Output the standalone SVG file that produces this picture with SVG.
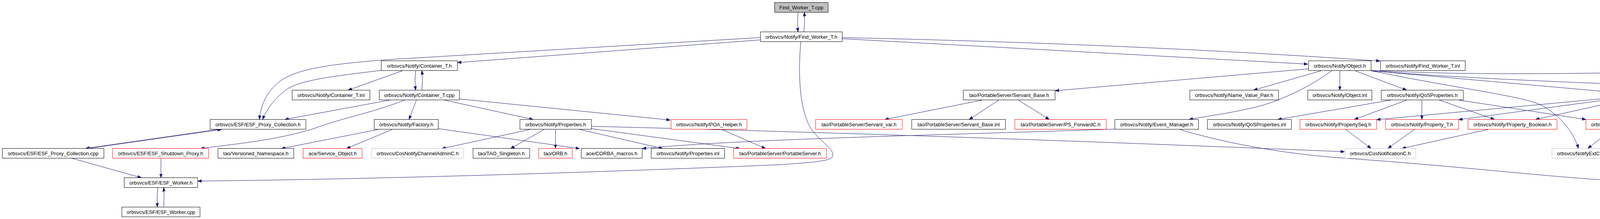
<svg xmlns="http://www.w3.org/2000/svg" width="5547" height="560" viewBox="0 0 5547 560">
<defs>
<style>
rect{fill:#fff;stroke:#000;stroke-width:1}
.r rect{stroke:#f00}
.g rect{stroke:#bfbfbf}
.root rect{fill:#bfbfbf}
text{font-family:"Liberation Sans",Arial,sans-serif;font-size:13px;text-anchor:middle;fill:#000}
#edges path{fill:none;stroke:#191970;stroke-width:1;marker-end:url(#a)}
</style>
<marker id="a" markerWidth="10" markerHeight="8" refX="10" refY="4" orient="auto" markerUnits="userSpaceOnUse"><path d="M0,0.5 L10,4 L0,7.5 z" fill="#191970" stroke="#191970" stroke-width="1"/></marker>
</defs>
<rect x="0" y="0" width="5547" height="560" style="stroke:none;fill:#fff"/>
<g id="edges">
<path d="M2043,31.5 Q2040,56 2043,81.5"/>
<path d="M2058,81.5 Q2061,56 2059,31.5"/>
<path d="M1947,102 L1171,160"/>
<path d="M1947,96 L1000,152 C820,165 760,180 720,205 C680,235 668,270 664,305.5"/>
<path d="M1064,180.5 Q1061,205 1064,230.5"/>
<path d="M1080,230.5 Q1083,205 1080,180.5"/>
<path d="M1030,181 L891,230.5"/>
<path d="M976,180 C850,195 770,205 735,228 C705,250 685,275 672,305.5"/>
<path d="M997,256 L729,305.5"/>
<path d="M1035,256 C950,290 880,300 800,330 C700,360 600,368 513,380"/>
<path d="M1066,256 L1047,305.5"/>
<path d="M1138,256 L1365,305.5"/>
<path d="M1176,253 L1716,307"/>
<path d="M2156,99 L3348,164"/>
<path d="M2156,96 Q2900,112 3533,156"/>
<path d="M2050,106.5 C2042,200 2048,290 2080,335 C2110,370 2140,385 2130,402 C2120,414 2060,416 2000,421 C1600,438 1000,458 506,463"/>
<path d="M968,331 L720,380"/>
<path d="M1004,331 L887,380"/>
<path d="M1122,329 L1484,380"/>
<path d="M1357,331 L1131,380"/>
<path d="M1393,331 L1307,380"/>
<path d="M1422,331 L1422,379.5"/>
<path d="M1484,331 L1697,380"/>
<path d="M1514,329 L1895,380"/>
<path d="M1514,323 Q2400,345 3442,388"/>
<path d="M1848,331 L1960,380"/>
<path d="M2854,330 C2400,346 1900,355 1644,380"/>
<path d="M2514,256 L2265,305.5"/>
<path d="M2557,256 L2481,305.5"/>
<path d="M2607,256 L2686,305.5"/>
<path d="M3350,176 L2701,232"/>
<path d="M3382,181 L3209,230.5"/>
<path d="M3409,181 C3370,210 3300,250 3226,271 C3150,290 3100,295 3044,305.5"/>
<path d="M3430,181 L3430,230.5"/>
<path d="M3469,181 L3601,230.5"/>
<path d="M3510,180 C3700,190 3900,190 4150,186 L4497,185 C4700,190 4900,200 4960,212 C5060,232 5130,260 5204,305.5"/>
<path d="M3510,181 C3800,205 4200,218 4848,240"/>
<path d="M3510,181 L4108,234"/>
<path d="M3510,181 C3750,230 3900,245 3950,271 C3990,295 4025,330 4041,379.5"/>
<path d="M3560,256 L3271,305.5"/>
<path d="M3601,256 L3467,305.5"/>
<path d="M3640,256 L3640,305.5"/>
<path d="M3685,256 L3826,305.5"/>
<path d="M3735,256 L4060,305.5"/>
<path d="M4108,252 L3524,306"/>
<path d="M4108,256 L3734,306"/>
<path d="M4155,256 L3931,305.5"/>
<path d="M4203,256 L4161,305.5"/>
<path d="M4225,256 C4240,300 4255,380 4265,454.5"/>
<path d="M4234,256 C4290,310 4350,345 4440,365 C4500,378 4530,382 4563,386"/>
<path d="M4263,256 L4416,305.5"/>
<path d="M4306,256 L4619,305.5"/>
<path d="M4329,247 C4800,270 5030,285 5060,300 C5085,320 5075,350 4998,379.5"/>
<path d="M4126,331 L4065,379.5"/>
<path d="M4156,331 L4254,454.5"/>
<path d="M3445,331 L3510,379.5"/>
<path d="M3621,331 L3553,379.5"/>
<path d="M3809,331 L3589,379.5"/>
<path d="M3020,331 C3150,370 3300,395 3450,405 C3800,430 4000,458 4217,466"/>
<path d="M4947,256 L4947,305.5"/>
<path d="M4998,256 L5180,305.5"/>
<path d="M4885,331 L4679,379.5"/>
<path d="M5175,331 L5003,379.5"/>
<path d="M5192,331 C5110,360 5050,395 5030,400 C4950,420 4700,440 4319,464"/>
<path d="M5213,331 L5170,379.5"/>
<path d="M5244,331 L5287,379.5"/>
<path d="M5275,331 L5424,379.5"/>
<path d="M5086,404 L4988,414 C4800,432 4500,455 4319,466"/>
<path d="M558,331 L219,379.5"/>
<path d="M223,380 L567,331"/>
<path d="M185,405 L362,454.5"/>
<path d="M412,405 L412,454.5"/>
<path d="M404,479.5 Q401,505 403,529.5"/>
<path d="M419,529.5 Q421,505 419,479.5"/>
</g>
<g id="n_root" class="root"><rect x="1983" y="6.5" width="137" height="25"/><text x="2051.5" y="23.5">Find_Worker_T.cpp</text></g>
<g id="n_fwh"><rect x="1947" y="81.5" width="209" height="25"/><text x="2051.5" y="98.5">orbsvcs/Notify/Find_Worker_T.h</text></g>
<g id="n_cth"><rect x="976" y="155.5" width="195" height="25"/><text x="1073.5" y="172.5">orbsvcs/Notify/Container_T.h</text></g>
<g id="n_objh"><rect x="3350" y="155.5" width="160" height="25"/><text x="3430" y="172.5">orbsvcs/Notify/Object.h</text></g>
<g id="n_fwinl"><rect x="3534" y="155.5" width="217" height="25"/><text x="3642.5" y="172.5">orbsvcs/Notify/Find_Worker_T.inl</text></g>
<g id="n_ctinl"><rect x="748" y="230.5" width="199" height="25"/><text x="847.5" y="247.5">orbsvcs/Notify/Container_T.inl</text></g>
<g id="n_ctcpp"><rect x="971" y="230.5" width="205" height="25"/><text x="1073.5" y="247.5">orbsvcs/Notify/Container_T.cpp</text></g>
<g id="n_sbh"><rect x="2466" y="230.5" width="235" height="25"/><text x="2583.5" y="247.5">tao/PortableServer/Servant_Base.h</text></g>
<g id="n_nvp"><rect x="3046" y="230.5" width="227" height="25"/><text x="3159.5" y="247.5">orbsvcs/Notify/Name_Value_Pair.h</text></g>
<g id="n_objinl"><rect x="3348" y="230.5" width="164" height="25"/><text x="3430" y="247.5">orbsvcs/Notify/Object.inl</text></g>
<g id="n_qosh"><rect x="3536" y="230.5" width="210" height="25"/><text x="3641" y="247.5">orbsvcs/Notify/QoSProperties.h</text></g>
<g id="n_admh"><rect x="4108" y="230.5" width="221" height="25"/><text x="4218.5" y="247.5">orbsvcs/Notify/AdminProperties.h</text></g>
<g id="n_wth"><rect x="4848" y="230.5" width="199" height="25"/><text x="4947.5" y="247.5">orbsvcs/Notify/Worker_Task.h</text></g>
<g id="n_esfpch"><rect x="538" y="305.5" width="245" height="25"/><text x="660.5" y="322.5">orbsvcs/ESF/ESF_Proxy_Collection.h</text></g>
<g id="n_fact"><rect x="958" y="305.5" width="164" height="25"/><text x="1040" y="322.5">orbsvcs/Notify/Factory.h</text></g>
<g id="n_proph"><rect x="1331" y="305.5" width="183" height="25"/><text x="1422.5" y="322.5">orbsvcs/Notify/Properties.h</text></g>
<g id="n_poa" class="r"><rect x="1718" y="305.5" width="194" height="25"/><text x="1815" y="322.5">orbsvcs/Notify/POA_Helper.h</text></g>
<g id="n_svar" class="r"><rect x="2088" y="305.5" width="222" height="25"/><text x="2199" y="322.5">tao/PortableServer/Servant_var.h</text></g>
<g id="n_sbinl"><rect x="2334" y="305.5" width="240" height="25"/><text x="2454" y="322.5">tao/PortableServer/Servant_Base.inl</text></g>
<g id="n_psf" class="r"><rect x="2598" y="305.5" width="234" height="25"/><text x="2715" y="322.5">tao/PortableServer/PS_ForwardC.h</text></g>
<g id="n_evm"><rect x="2854" y="305.5" width="214" height="25"/><text x="2961" y="322.5">orbsvcs/Notify/Event_Manager.h</text></g>
<g id="n_qosinl"><rect x="3091" y="305.5" width="215" height="25"/><text x="3198.5" y="322.5">orbsvcs/Notify/QoSProperties.inl</text></g>
<g id="n_pseq" class="r"><rect x="3328" y="305.5" width="196" height="25"/><text x="3426" y="322.5">orbsvcs/Notify/PropertySeq.h</text></g>
<g id="n_propt" class="r"><rect x="3547" y="305.5" width="187" height="25"/><text x="3640.5" y="322.5">orbsvcs/Notify/Property_T.h</text></g>
<g id="n_propb" class="r"><rect x="3758" y="305.5" width="228" height="25"/><text x="3872" y="322.5">orbsvcs/Notify/Property_Boolean.h</text></g>
<g id="n_prop" class="r"><rect x="4060" y="305.5" width="171" height="25"/><text x="4145.5" y="322.5">orbsvcs/Notify/Property.h</text></g>
<g id="n_ctm"><rect x="4355" y="305.5" width="208" height="25"/><text x="4459" y="322.5">ace/Condition_Thread_Mutex.h</text></g>
<g id="n_adminl"><rect x="4587" y="305.5" width="226" height="25"/><text x="4700" y="322.5">orbsvcs/Notify/AdminProperties.inl</text></g>
<g id="n_mreq" class="r"><rect x="4835" y="305.5" width="222" height="25"/><text x="4946" y="322.5">orbsvcs/Notify/Method_Request.h</text></g>
<g id="n_refc"><rect x="5131" y="305.5" width="199" height="25"/><text x="5230.5" y="322.5">orbsvcs/Notify/Refcountable.h</text></g>
<g id="n_esfpccpp"><rect x="6" y="379.5" width="260" height="25"/><text x="136" y="396.5">orbsvcs/ESF/ESF_Proxy_Collection.cpp</text></g>
<g id="n_esfsd" class="r"><rect x="288" y="379.5" width="246" height="25"/><text x="411" y="396.5">orbsvcs/ESF/ESF_Shutdown_Proxy.h</text></g>
<g id="n_vns"><rect x="558" y="379.5" width="194" height="25"/><text x="655" y="396.5">tao/Versioned_Namespace.h</text></g>
<g id="n_svco" class="r"><rect x="776" y="379.5" width="151" height="25"/><text x="851.5" y="396.5">ace/Service_Object.h</text></g>
<g id="n_cnca" class="g"><rect x="951" y="379.5" width="236" height="25"/><text x="1069" y="396.5">orbsvcs/CosNotifyChannelAdminC.h</text></g>
<g id="n_tsing"><rect x="1211" y="379.5" width="145" height="25"/><text x="1283.5" y="396.5">tao/TAO_Singleton.h</text></g>
<g id="n_orb" class="r"><rect x="1379" y="379.5" width="86" height="25"/><text x="1422" y="396.5">tao/ORB.h</text></g>
<g id="n_corba"><rect x="1488" y="379.5" width="156" height="25"/><text x="1566" y="396.5">ace/CORBA_macros.h</text></g>
<g id="n_propinl"><rect x="1667" y="379.5" width="188" height="25"/><text x="1761" y="396.5">orbsvcs/Notify/Properties.inl</text></g>
<g id="n_pss" class="r"><rect x="1878" y="379.5" width="238" height="25"/><text x="1997" y="396.5">tao/PortableServer/PortableServer.h</text></g>
<g id="n_cnc" class="g"><rect x="3443" y="379.5" width="181" height="25"/><text x="3533.5" y="396.5">orbsvcs/CosNotificationC.h</text></g>
<g id="n_nec" class="g"><rect x="3973" y="379.5" width="146" height="25"/><text x="4046" y="396.5">orbsvcs/NotifyExtC.h</text></g>
<g id="n_bptr"><rect x="4563" y="379.5" width="121" height="25"/><text x="4623.5" y="396.5">ace/Bound_Ptr.h</text></g>
<g id="n_aop"><rect x="4888" y="379.5" width="124" height="25"/><text x="4950" y="396.5">ace/Atomic_Op.h</text></g>
<g id="n_btyp"><rect x="5086" y="379.5" width="132" height="25"/><text x="5152" y="396.5">tao/Basic_Types.h</text></g>
<g id="n_strt"><rect x="5240" y="379.5" width="135" height="25"/><text x="5307.5" y="396.5">ace/Synch_Traits.h</text></g>
<g id="n_tmtx"><rect x="5398" y="379.5" width="145" height="25"/><text x="5470.5" y="396.5">ace/Thread_Mutex.h</text></g>
<g id="n_esfwh"><rect x="318" y="454.5" width="188" height="25"/><text x="412" y="471.5">orbsvcs/ESF/ESF_Worker.h</text></g>
<g id="n_orbconf"><rect x="4217" y="454.5" width="102" height="25"/><text x="4268" y="471.5">tao/orbconf.h</text></g>
<g id="n_esfwcpp"><rect x="312" y="529.5" width="200" height="25"/><text x="412" y="546.5">orbsvcs/ESF/ESF_Worker.cpp</text></g>
</svg>
